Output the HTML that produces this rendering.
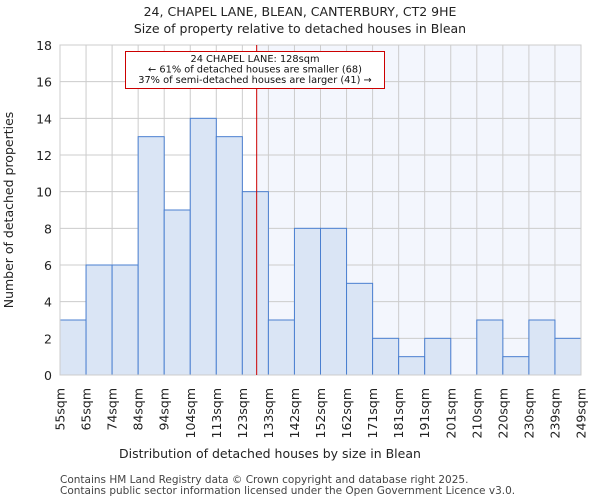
<!DOCTYPE html>
<html><head><meta charset="utf-8"><style>
body{margin:0;background:#fff;font-family:"DejaVu Sans","Liberation Sans",sans-serif}
</style></head><body>
<svg width="600" height="500" xmlns="http://www.w3.org/2000/svg" font-family="DejaVu Sans, Liberation Sans, sans-serif">
<text x="300" y="16" text-anchor="middle" font-size="12.5" fill="#222">24, CHAPEL LANE, BLEAN, CANTERBURY, CT2 9HE</text>
<text x="300" y="33" text-anchor="middle" font-size="12.5" fill="#222">Size of property relative to detached houses in Blean</text>
<g id="plot"></g>
<text x="270" y="458" text-anchor="middle" font-size="12.5" fill="#222">Distribution of detached houses by size in Blean</text>
<text transform="translate(13,210) rotate(-90)" text-anchor="middle" font-size="12.5" fill="#222">Number of detached properties</text>
<text x="60" y="483" font-size="10.5" fill="#444">Contains HM Land Registry data © Crown copyright and database right 2025.</text>
<text x="60" y="494" font-size="10.5" fill="#444">Contains public sector information licensed under the Open Government Licence v3.0.</text>
</svg>
<script>
const labels=["55sqm","65sqm","74sqm","84sqm","94sqm","104sqm","113sqm","123sqm","133sqm","142sqm","152sqm","162sqm","171sqm","181sqm","191sqm","201sqm","210sqm","220sqm","230sqm","239sqm","249sqm"];
const counts=[3,6,6,13,9,14,13,10,3,8,8,5,2,1,2,0,3,1,3,2];
const yTicks=[0,2,4,6,8,10,12,14,16,18];
const markerBin=7.55;
const NS="http://www.w3.org/2000/svg";
const g=document.getElementById('plot');
const x0=60,x1=581,yTop=45,yBot=375,yMax=18;
const n=counts.length,bw=(x1-x0)/n;
const X=i=>x0+i*bw, Y=v=>yBot-(v/yMax)*(yBot-yTop);
function el(t,a){const e=document.createElementNS(NS,t);for(const k in a)e.setAttribute(k,a[k]);g.appendChild(e);return e;}
const mx=X(markerBin);
let r=el('rect',{x:mx,y:yTop,width:x1-mx,height:yBot-yTop,fill:'#f3f6fd'});


yTicks.forEach(t=>{
 const l=el('line',{x1:x0,x2:x1,y1:Y(t),y2:Y(t),stroke:'#ccc','stroke-width':1});
 
 
 const tx=el('text',{x:x0-8,y:Y(t)+5,'text-anchor':'end','font-size':12.5,fill:'#222'});
 tx.textContent=t;
 
 
});
for(let i=0;i<=n;i++){
 const l=el('line',{x1:X(i),x2:X(i),y1:yTop,y2:yBot,stroke:'#ccc','stroke-width':1});
 
 
}
counts.forEach((c,i)=>{
 if(c<=0)return;
 const b=el('rect',{x:X(i),y:Y(c),width:bw,height:Y(0)-Y(c),fill:'#dae5f5',stroke:'#4a7fd0','stroke-width':1});
 
 
});
labels.forEach((s,i)=>{
 const t=el('text',{transform:`translate(${X(i)+4.5},388) rotate(-90)`,'text-anchor':'end','font-size':12.5,fill:'#222'});
 t.textContent=s;
 
 
});
const ax=el('rect',{x:x0,y:yTop,width:x1-x0,height:yBot-yTop,fill:'none',stroke:'#ccc'});


const ml=el('line',{x1:mx,x2:mx,y1:yTop,y2:yBot,stroke:'#cc0000','stroke-width':1});


const box=el('rect',{x:125.5,y:51.5,width:259,height:37,fill:'#fff',stroke:'#cc0000','stroke-width':1});


["24 CHAPEL LANE: 128sqm","← 61% of detached houses are smaller (68)","37% of semi-detached houses are larger (41) →"].forEach((s,i)=>{
 const t=el('text',{x:255,y:62+i*10.5,'text-anchor':'middle','font-size':9.8,fill:'#111'});
 t.textContent=s;
 
 
});
</script>
</body></html>
